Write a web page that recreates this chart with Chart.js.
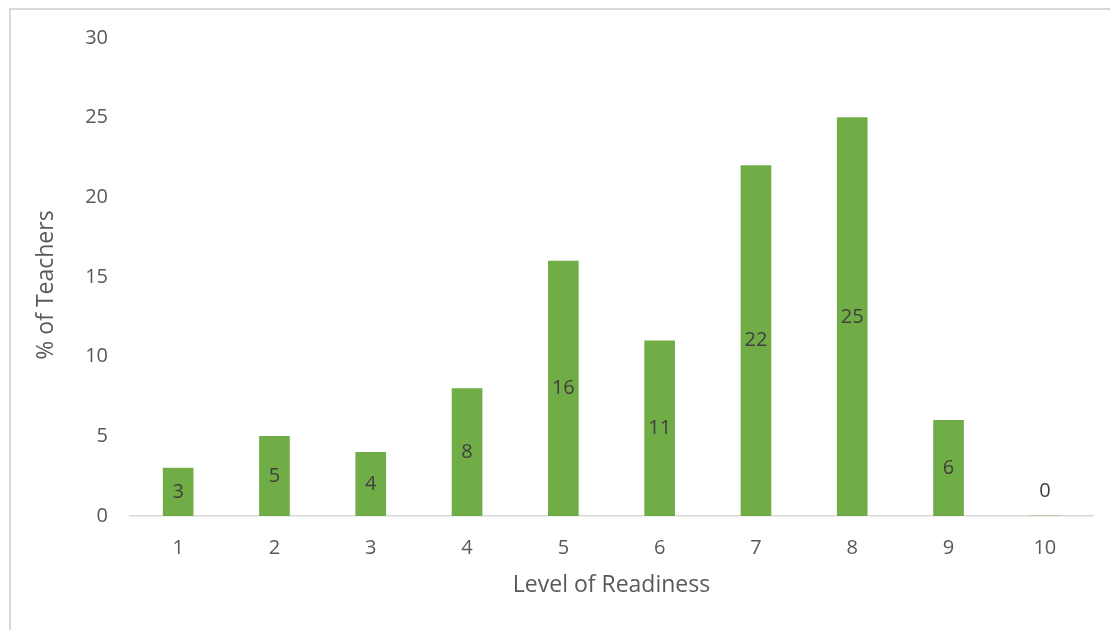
<!DOCTYPE html>
<html>
<head>
<meta charset="utf-8">
<script src="https://cdn.jsdelivr.net/npm/chart.js@4"></script>
<style>
  html, body { margin: 0; padding: 0; background: #ffffff; }
  #frame {
    position: absolute; left: 9px; top: 8px; width: 1110px; height: 630px;
    border-top: 2px solid #d9d9d9; border-left: 2px solid #d9d9d9;
  }
  #wrap { position: absolute; left: 0; top: 0; width: 1110px; height: 630px; }
</style>
</head>
<body>
<div id="frame"></div>
<div id="wrap"><canvas id="chart" width="1110" height="630"></canvas></div>
<script>
// Share of teachers at each level of readiness (1–10)
const levels = ['1', '2', '3', '4', '5', '6', '7', '8', '9', '10'];
const teacherPct = [3, 5, 4, 8, 16, 11, 22, 25, 6, 0];
const yTicks = [0, 5, 10, 15, 20, 25, 30];

const FONT = '"Open Sans", "Liberation Sans", sans-serif';
const GREEN = '#70AD47';
const TEXT = '#595959';

// Value labels drawn in the middle of each bar
const barValueLabels = {
  id: 'barValueLabels',
  afterDatasetsDraw(chart) {
    const { ctx } = chart;
    const meta = chart.getDatasetMeta(0);
    ctx.save();
    ctx.font = '20px ' + FONT;
    ctx.fillStyle = '#404040';
    ctx.textAlign = 'center';
    ctx.textBaseline = 'middle';
    meta.data.forEach((bar, i) => {
      const v = chart.data.datasets[0].data[i];
      const y = v > 0 ? (bar.y + bar.base) / 2 : bar.base - 25;
      ctx.fillText(String(v), bar.x, y);
    });
    ctx.restore();
  }
};

// Vertical axis title, set slightly below the middle of the plot
const yAxisTitle = {
  id: 'yAxisTitle',
  afterDraw(chart) {
    const { ctx, chartArea } = chart;
    ctx.save();
    ctx.translate(46, (chartArea.top + chartArea.bottom) / 2 + 8);
    ctx.rotate(-Math.PI / 2);
    ctx.font = '23px ' + FONT;
    ctx.fillStyle = TEXT;
    ctx.textAlign = 'center';
    ctx.textBaseline = 'middle';
    ctx.fillText('% of Teachers', 0, 0);
    ctx.restore();
  }
};

new Chart(document.getElementById('chart'), {
  type: 'bar',
  data: {
    labels: levels,
    datasets: [{
      data: teacherPct,
      backgroundColor: GREEN,
      borderWidth: 0,
      barThickness: 30
    }]
  },
  options: {
    responsive: false,
    animation: false,
    events: [],
    layout: { padding: { top: 38, right: 17, bottom: 0, left: 0 } },
    plugins: {
      legend: { display: false },
      tooltip: { enabled: false }
    },
    scales: {
      x: {
        grid: { display: false, drawTicks: false },
        border: { display: true, color: '#d9d9d9', width: 1.5 },
        ticks: { color: TEXT, font: { family: FONT, size: 20 }, padding: 20 },
        title: {
          display: true, text: 'Level of Readiness', color: TEXT,
          font: { family: FONT, size: 23 }, padding: { top: 0, bottom: 31 }
        },
        afterFit(scale) { scale.height = 114; }
      },
      y: {
        min: 0, max: 30,
        grid: { display: false, drawTicks: false },
        border: { display: false },
        afterBuildTicks(scale) { scale.ticks = yTicks.map(v => ({ value: v })); },
        ticks: { color: TEXT, font: { family: FONT, size: 20 }, padding: 22 },
        afterFit(scale) { scale.width = 130; }
      }
    }
  },
  plugins: [barValueLabels, yAxisTitle]
});
</script>
</body>
</html>
